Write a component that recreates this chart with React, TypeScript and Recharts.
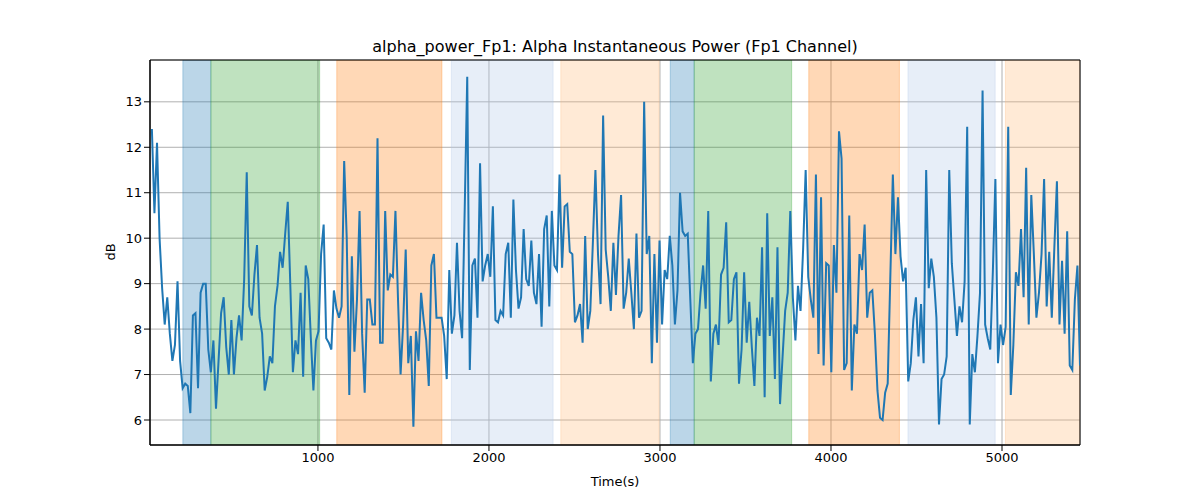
import React from 'react';
import { ComposedChart, Line, XAxis, YAxis, CartesianGrid, ReferenceArea } from 'recharts';

// Fp1 alpha power (dB), sampled at a fixed step from tStart to tEnd
const tStart = 29;
const tEnd = 5456;
const power = [
  12.4, 10.55, 12.1, 10.0, 8.9, 8.1, 8.7, 7.9, 7.3, 7.65, 9.05, 7.3, 6.7, 6.8, 6.75, 6.15, 8.3, 8.35, 6.7, 8.8,
  9.0, 9.0, 7.55, 7.05, 7.75, 6.25, 7.3, 8.35, 8.7, 7.6, 7.0, 8.2, 7.0, 7.8, 8.3, 7.75, 9.1, 11.45, 8.5, 8.3,
  9.2, 9.85, 8.25, 7.9, 6.65, 6.95, 7.4, 7.25, 8.5, 8.95, 9.7, 9.35, 10.1, 10.8, 8.95, 7.05, 7.75, 7.45, 8.8, 6.95,
  9.4, 9.1, 7.8, 6.65, 7.75, 7.95, 9.65, 10.3, 7.8, 7.7, 7.55, 8.85, 8.45, 8.25, 8.5, 11.7, 10.0, 6.55, 9.6, 7.5,
  8.65, 10.6, 7.9, 6.6, 8.65, 8.65, 8.1, 8.1, 12.2, 7.7, 7.7, 10.6,
  8.85, 9.2, 9.15, 10.6, 8.65, 7.0, 8.1, 9.75, 7.25, 7.85, 5.85, 7.95, 7.3, 8.8, 8.2, 7.75, 6.75, 9.4, 9.65, 8.25,
  8.25, 8.25, 7.85, 6.9, 9.3, 7.9, 8.3, 9.9, 8.4, 7.8, 10.6, 13.55, 7.1, 9.4, 9.55, 8.25, 11.65, 9.05, 9.4, 9.65,
  9.15, 10.7, 8.2, 8.15, 8.4, 8.3, 9.65, 9.9, 8.25, 10.85, 9.3, 8.45, 8.7, 10.2, 9.1, 8.95, 9.95, 8.8, 8.55, 9.65,
  8.05, 10.2, 10.5, 8.5, 10.6, 9.4, 9.3, 11.4, 9.35, 10.7, 10.75, 9.7, 9.65, 8.15, 8.3, 8.55, 7.7, 10.05, 8.0, 8.4,
  9.9, 11.5, 9.65, 8.55, 12.7, 9.75, 9.15, 8.4, 9.9, 8.75, 10.05,
  10.95, 8.45, 8.8, 9.55, 8.8, 8.0, 10.1, 8.25, 8.4, 13.0, 9.65, 10.05, 7.25, 9.65, 7.7, 9.95, 8.1, 9.3, 9.1, 10.05,
  9.4, 8.1, 8.85, 11.0, 10.15, 10.05, 10.1, 8.65, 7.25, 7.9, 8.0, 8.8, 9.4, 8.45, 10.6, 6.85, 7.9, 8.1, 7.65, 9.2,
  9.35, 10.35, 8.15, 8.2, 9.1, 9.25, 6.8, 7.55, 9.25, 7.7, 8.6, 7.6, 6.75, 8.25, 7.85, 9.8, 6.5, 10.55, 7.85, 8.7,
  6.9, 9.8, 6.35, 7.4, 8.4, 8.8, 10.6, 8.7, 7.75, 8.95, 8.4, 9.75, 11.5, 9.15, 8.65, 8.25, 11.4, 7.45, 10.9, 7.2,
  9.45, 9.4, 7.05, 9.85, 8.8, 12.35, 11.75, 7.1, 7.25, 10.5, 6.65,
  8.1, 7.9, 9.65, 9.3, 10.3, 8.25, 8.8, 8.85, 7.9, 6.65, 6.05, 6.0, 6.6, 6.8, 9.1, 11.4, 9.65, 10.9, 9.6, 9.05,
  9.35, 6.85, 7.25, 8.2, 8.7, 7.4, 8.55, 7.25, 11.5, 8.9, 9.55, 9.15, 8.25, 5.9, 6.9, 7.0, 7.4, 11.5, 9.45, 8.65,
  7.85, 8.5, 8.15, 9.05, 12.45, 5.9, 7.45, 7.05, 7.85, 8.8, 13.25, 8.1, 7.8, 7.55, 9.25, 11.3, 7.25, 8.1, 7.65, 8.05,
  12.45, 6.55, 7.65, 9.25, 8.95, 10.2, 8.7, 11.55, 8.1, 10.95, 9.65, 8.25, 8.8, 9.65, 11.3, 8.5, 9.7, 8.25, 9.8, 11.25,
  8.1, 9.5, 7.9, 10.15, 7.2, 7.1, 8.65, 9.4, 7.2,
];

// shaded segments: [start, end, colour, opacity]
const segStart = [210, 374, 1110, 1780, 2420, 3060, 3200, 3870, 4450, 5020];
const segEnd = [374, 1010, 1725, 2375, 2995, 3200, 3770, 4400, 4960, 5456];
const segColor = ['#1f77b4', '#2ca02c', '#ff7f0e', '#aec7e8', '#ffbb78', '#1f77b4', '#2ca02c', '#ff7f0e', '#aec7e8', '#ffbb78'];
const segOpacity = [0.3, 0.3, 0.3, 0.3, 0.3, 0.3, 0.3, 0.3, 0.3, 0.3];

const xTicks = [1000, 2000, 3000, 4000, 5000];
const yTicks = [6, 7, 8, 9, 10, 11, 12, 13];

const step = (tEnd - tStart) / (power.length - 1);
const data = power.map((v, i) => ({ t: tStart + i * step, v }));

const font = 'DejaVu Sans, sans-serif';

export default function App() {
  return (
    <div style={{ position: 'absolute', left: 0, top: 0, width: 1200, height: 500, background: '#fff', fontFamily: font }}>
      <ComposedChart width={1200} height={500} data={data} margin={{ top: 60, right: 120, bottom: 25, left: 0 }}>
        <text x={615} y={52} textAnchor="middle" fontSize={16} fill="#000">
          alpha_power_Fp1: Alpha Instantaneous Power (Fp1 Channel)
        </text>
        <text x={115} y={252} textAnchor="middle" fontSize={13} fill="#000" transform="rotate(-90 115 252)">dB</text>
        <text x={615} y={486} textAnchor="middle" fontSize={13} fill="#000">Time(s)</text>
        {segStart.map((s, i) => (
          <ReferenceArea key={i} x1={s} x2={segEnd[i]} y1={5.45} y2={13.92} fill={segColor[i]} fillOpacity={segOpacity[i]}
            stroke={segColor[i]} strokeOpacity={segOpacity[i]} ifOverflow="hidden" />
        ))}
        <CartesianGrid stroke="#b0b0b0" strokeWidth={1} />
        <XAxis dataKey="t" type="number" domain={[18, 5456]} ticks={xTicks} height={30} allowDataOverflow
          tick={{ fontSize: 13, fill: '#000', fontFamily: font }} tickLine={{ stroke: '#000' }} axisLine={{ stroke: '#000' }} />
        <YAxis type="number" domain={[5.45, 13.92]} ticks={yTicks} width={150} allowDataOverflow
          tick={{ fontSize: 13, fill: '#000', fontFamily: font }} tickLine={{ stroke: '#000' }} axisLine={{ stroke: '#000' }} />
        <Line dataKey="v" type="linear" stroke="#1f77b4" strokeWidth={2} dot={false} isAnimationActive={false} />
        <ReferenceArea x1={18} x2={5456} y1={5.45} y2={13.92} fill="none" stroke="#000" strokeWidth={1} />
      </ComposedChart>
    </div>
  );
}
